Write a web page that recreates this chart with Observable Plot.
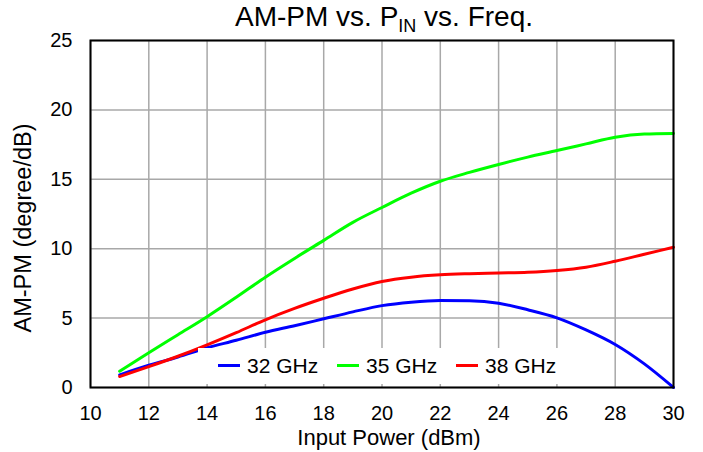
<!DOCTYPE html>
<html>
<head>
<meta charset="utf-8">
<script src="https://cdn.jsdelivr.net/npm/d3@7"></script>
<script src="https://cdn.jsdelivr.net/npm/@observablehq/plot@0.6"></script>
<style>
  html, body { margin: 0; padding: 0; background: #fff; }
  #wrap { position: relative; width: 703px; height: 452px; font-family: "Liberation Sans", Arial, sans-serif; }
  #title { position: absolute; left: 7px; width: 754px; top: 3px; text-align: center; font-size: 28px; line-height: 28px; color: #000; white-space: nowrap; }
  #title sub { font-size: 18px; vertical-align: -6px; line-height: 0; }
  #legend { position: absolute; left: 198px; top: 348px; width: 367px; height: 36px; background: #fff; }
  .item { position: absolute; top: 0; height: 36px; font-size: 21px; line-height: 36px; color: #000; }
  .sw { position: absolute; top: 16px; height: 3px; width: 22px; }
  .lb { position: absolute; left: 29px; top: 0px; white-space: nowrap; }
</style>
</head>
<body>
<div id="wrap">
  <div id="chart"></div>
  <div id="title">AM-PM vs. P<sub>IN</sub> vs. Freq.</div>
  <div id="legend"></div>
</div>
<script>
const inputPower = [11,12,13,14,15,16,17,18,19,20,21,22,23,24,25,26,27,28,29,30];
const ghz32 = [0.91,1.6,2.2,2.86,3.4,3.98,4.45,4.95,5.45,5.9,6.15,6.27,6.25,6.07,5.6,5.02,4.15,3.1,1.7,0];
const ghz35 = [1.17,2.5,3.8,5.1,6.5,7.95,9.3,10.6,11.9,12.97,14.0,14.86,15.5,16.07,16.6,17.07,17.55,18.03,18.26,18.3];
const ghz38 = [0.79,1.5,2.25,3.07,3.95,4.88,5.7,6.43,7.1,7.64,7.95,8.12,8.2,8.25,8.3,8.43,8.67,9.1,9.6,10.1];
const seriesNames = ["32 GHz","35 GHz","38 GHz"];
const seriesColors = ["#0000ff","#00ff00","#ff0000"];
const xTicks = [10,12,14,16,18,20,22,24,26,28,30];
const yTicks = [0,5,10,15,20,25];
const xTitle = "Input Power (dBm)";
const yTitle = "AM-PM (degree/dB)";

const rows = [];
[ghz32, ghz35, ghz38].forEach((arr, i) => {
  arr.forEach((v, j) => rows.push({x: inputPower[j], y: v, s: seriesNames[i]}));
});

const plot = Plot.plot({
  width: 703,
  height: 452,
  marginLeft: 90,
  marginRight: 30,
  marginTop: 40,
  marginBottom: 65,
  style: {fontFamily: '"Liberation Sans", Arial, sans-serif', color: "#000", background: "#fff"},
  x: {domain: [10, 30]},
  y: {domain: [0, 25]},
  color: {domain: seriesNames, range: seriesColors},
  marks: [
    Plot.gridX(xTicks, {stroke: "#a8a8a8", strokeOpacity: 1, strokeWidth: 1.5}),
    Plot.gridY(yTicks, {stroke: "#a8a8a8", strokeOpacity: 1, strokeWidth: 1.5}),
    Plot.line(rows, {x: "x", y: "y", z: "s", stroke: "s", strokeWidth: 3, curve: "monotone-x"}),
    Plot.frame({stroke: "#000", strokeWidth: 2}),
    Plot.axisX({ticks: xTicks, tickSize: 0, tickPadding: 18, label: null, fontSize: 20}),
    Plot.axisY({ticks: yTicks, tickSize: 0, tickPadding: 18, label: null, fontSize: 20}),
    Plot.text([xTitle], {frameAnchor: "bottom", lineAnchor: "middle", textAnchor: "middle", dx: 7, dy: 50, fontSize: 22, fill: "#000"}),
    Plot.text([yTitle], {frameAnchor: "left", lineAnchor: "middle", textAnchor: "middle", dx: -67, dy: 14, rotate: -90, fontSize: 23.5, fill: "#000"})
  ]
});
document.getElementById("chart").appendChild(plot);

const legend = document.getElementById("legend");
const lefts = [20, 139, 258];
seriesNames.forEach((name, i) => {
  const it = document.createElement("div");
  it.className = "item";
  it.style.left = lefts[i] + "px";
  it.innerHTML = `<div class="sw" style="background:${seriesColors[i]}"></div><span class="lb">${name}</span>`;
  legend.appendChild(it);
});
</script>
</body>
</html>
